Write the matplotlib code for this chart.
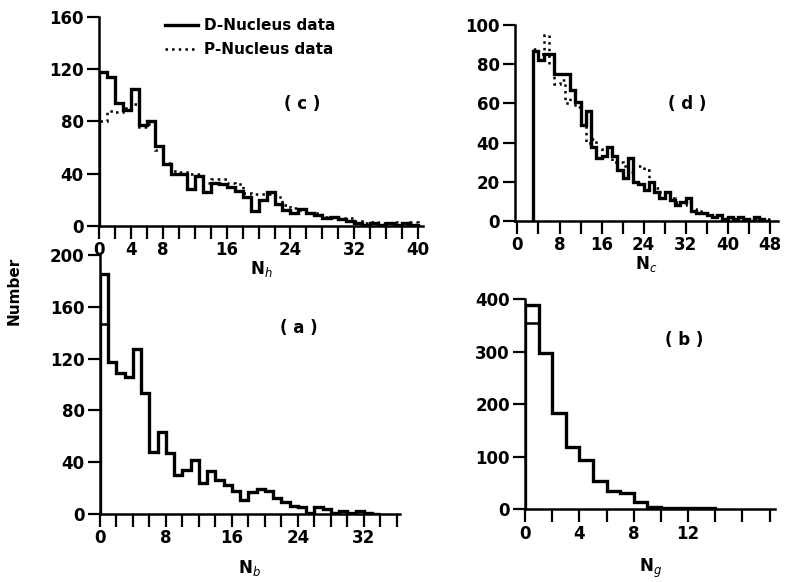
import numpy as np
import matplotlib
matplotlib.use("Agg")
import matplotlib.pyplot as plt
from matplotlib.ticker import MultipleLocator, FixedLocator

# (c) N_h distribution, bins of width 1 starting at 0
nh_d = [118, 114, 94, 89, 105, 77, 80, 61, 47, 40, 40, 28, 38, 26, 33, 32, 30,
        27, 22, 11, 20, 26, 17, 12, 10, 13, 10, 8, 6, 7, 5, 4, 2, 1, 2, 1, 2, 1, 2, 1]
nh_p = [80, 88, 87, 90, 93, 76, 78, 58, 48, 42, 41, 40, 40, 33, 36, 36, 33,
        32, 25, 24, 24, 24, 22, 16, 14, 12, 10, 10, 7, 6, 6, 6, 4, 2, 3, 2, 2, 3, 1, 3]

# (d) N_c distribution, bins of width 1 starting at 3
nc_start = 3
nc_d = [87, 82, 85, 85, 75, 75, 75, 67, 61, 49, 56, 38, 32, 33, 38, 33, 26, 22,
        32, 20, 19, 16, 20, 15, 12, 15, 11, 8, 10, 12, 5, 4, 4, 3, 2, 3, 1, 2, 1,
        2, 1, 0, 2, 1, 0]
nc_p = [88, 85, 95, 80, 70, 72, 60, 63, 58, 52, 40, 42, 37, 36, 35, 30, 30, 28,
        25, 28, 28, 26, 20, 17, 15, 14, 12, 10, 8, 10, 6, 5, 4, 3, 3, 2, 2, 2, 1,
        2, 1, 1, 1, 1, 1]

# (a) N_b distribution
nb_d = [185, 117, 109, 106, 127, 93, 48, 63, 47, 30, 34, 42, 24, 33, 26, 22, 18,
        11, 17, 19, 18, 12, 9, 6, 5, 1, 5, 4, 1, 2, 1, 2, 1, 0]
nb_p0 = 147

# (b) N_g distribution
ng_d = [389, 297, 183, 118, 93, 53, 34, 30, 13, 4, 3, 2, 2, 3]
ng_p0 = 354

FONT = dict(fontsize=12, fontweight="bold")


def style(ax, xmax, xmin, ylim, yticks, xlabels, xminor):
    ax.patch.set_alpha(0)
    for s in ("top", "right"):
        ax.spines[s].set_visible(False)
    ax.spines["left"].set_linewidth(1.8)
    ax.spines["bottom"].set_linewidth(1.8)
    ax.set_xlim(xmin, xmax)
    ax.set_ylim(*ylim)
    ax.set_yticks(yticks)
    ax.xaxis.set_major_locator(FixedLocator(xlabels))
    ax.xaxis.set_minor_locator(MultipleLocator(xminor))
    ax.tick_params(axis="both", which="major", length=9, width=1.6,
                   direction="out", pad=2)
    ax.tick_params(axis="x", which="minor", length=9, width=1.6, direction="out")
    for lab in ax.get_xticklabels() + ax.get_yticklabels():
        lab.set_fontsize(12)
        lab.set_fontweight("bold")


fig = plt.figure(figsize=(7.86, 5.82), dpi=100)

# panel (c)
ax_c = fig.add_axes([0.126, 0.612, 0.412, 0.359])
e = np.arange(len(nh_d) + 1)
l_d = ax_c.stairs(nh_d, e, baseline=0, color="black", lw=2.4,
                  label="D-Nucleus data")
l_p = ax_c.stairs(nh_p, e, baseline=0, color="black", lw=1.8, ls=":",
                  label="P-Nucleus data")
style(ax_c, 40.6, 0, (0, 160), [0, 40, 80, 120, 160], [0, 4, 8, 16, 24, 32, 40], 2)
ax_c.set_xlabel("N$_h$", labelpad=0, **FONT)
ax_c.text(0.57, 0.56, "( c )", transform=ax_c.transAxes, **FONT)
leg = ax_c.legend(handles=[l_d, l_p], loc="upper left",
                  bbox_to_anchor=(0.16, 1.06), frameon=False, handlelength=2.2,
                  handletextpad=0.4, labelspacing=0.6,
                  prop=dict(size=11, weight="bold"))

# panel (d)
ax_d = fig.add_axes([0.655, 0.620, 0.335, 0.337])
e = np.arange(nc_start, nc_start + len(nc_d) + 1)
ax_d.stairs(nc_d, e, baseline=0, color="black", lw=2.4)
ax_d.stairs(nc_p, e, baseline=0, color="black", lw=1.8, ls=":")
style(ax_d, 49.6, -0.5, (0, 100), [0, 20, 40, 60, 80, 100],
      [0, 8, 16, 24, 32, 40, 48], 4)
ax_d.set_xlabel("N$_c$", labelpad=0, **FONT)
ax_d.text(0.58, 0.57, "( d )", transform=ax_d.transAxes, **FONT)

# panel (a)
ax_a = fig.add_axes([0.127, 0.117, 0.382, 0.445])
e = np.arange(len(nb_d) + 1)
ax_a.stairs(nb_d, e, baseline=0, color="black", lw=2.4)
ax_a.stairs([nb_p0], e[:2], baseline=None, color="black", lw=1.8)
style(ax_a, 36.4, 0, (0, 200), [0, 40, 80, 120, 160, 200],
      [0, 8, 16, 24, 32], 2)
ax_a.set_xlabel("N$_b$", labelpad=8, **FONT)
ax_a.text(0.60, 0.70, "( a )", transform=ax_a.transAxes, **FONT)

# panel (b)
ax_b = fig.add_axes([0.668, 0.125, 0.318, 0.361])
e = np.arange(len(ng_d) + 1)
ax_b.stairs(ng_d, e, baseline=0, color="black", lw=2.4)
ax_b.stairs([ng_p0], e[:2], baseline=None, color="black", lw=1.8)
style(ax_b, 18.4, 0, (0, 400), [0, 100, 200, 300, 400], [0, 4, 8, 12], 2)
ax_b.set_xlabel("N$_g$", labelpad=10, **FONT)
ax_b.text(0.56, 0.78, "( b )", transform=ax_b.transAxes, **FONT)

fig.text(0.018, 0.50, "Number", rotation=90, va="center", ha="center",
         fontsize=11, fontweight="bold")

fig.savefig("out.png", dpi=100)
